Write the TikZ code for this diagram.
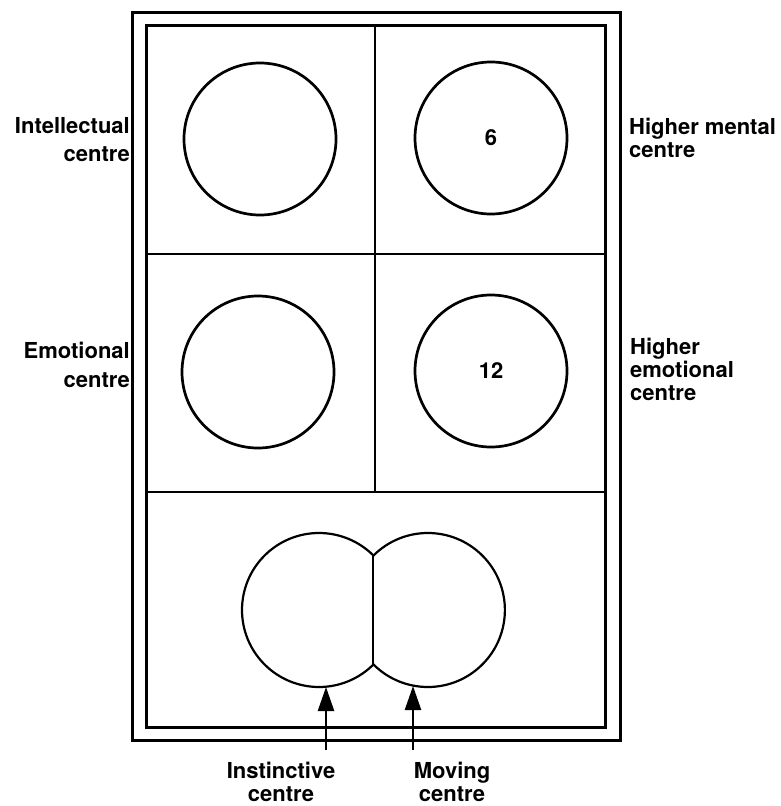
\documentclass[tikz,border=0pt]{standalone}
\usepackage{fontspec}
\setmainfont{TeX Gyre Heros}
\usetikzlibrary{arrows.meta}

\begin{document}
\begin{tikzpicture}[x=1pt,y=-1pt,
  centre/.style={draw,circle,minimum size=152pt,inner sep=0pt,line width=2.7pt,
    font=\bfseries\fontsize{22}{23}\selectfont},
  lbl/.style={inner sep=0pt,font=\bfseries\fontsize{22}{23}\selectfont},
  widelbl/.style={inner sep=0pt,font=\bfseries\fontsize{22}{28.5}\selectfont},
  pointer/.style={line width=2.4pt,-{Triangle[length=24pt,width=16pt]}}]
  \useasboundingbox (0,0) rectangle (781,806);
  \draw [line width=3pt] (132,12) rectangle (620,740);
  \draw [line width=3pt] (146,25) rectangle (605,727);
  \draw [line width=2pt] (146,254) -- (605,254);
  \draw [line width=2pt] (146,492) -- (605,492);
  \draw [line width=2pt] (375,25) -- (375,492);
  \node [centre] (intel) at (260,139) {};
  \node [centre] (hmental) at (491,138) {6};
  \node [centre] (emot) at (258,372) {};
  \node [centre] (hemot) at (491,371) {12};
  % instinctive and moving centres
  \coordinate (jtop) at (373.45,555.55);
  \coordinate (jbot) at (373.45,664.45);
  \draw [line width=2.2pt] (jtop) arc [start angle=-45,end angle=-315,radius=77]
    arc [start angle=135,end angle=-135,radius=77] -- cycle;
  \draw [line width=2pt] (jtop) -- (jbot);
  \coordinate (inst) at (326,687);
  \coordinate (instfoot) at (326,750);
  \coordinate (mov) at (413,686);
  \coordinate (movfoot) at (413,750);
  \draw [pointer] (instfoot) -- (inst);
  \draw [pointer] (movfoot) -- (mov);
  % labels
  \node [widelbl,align=right,anchor=north east] (intellbl) at (130,117) {Intellectual\\centre};
  \node [widelbl,align=right,anchor=north east] (emotlbl) at (130,342) {Emotional\\centre};
  \node [lbl,align=left,anchor=north west] (hmentlbl) at (629,118) {Higher mental\\centre};
  \node [lbl,align=left,anchor=north west] (hemotlbl) at (630,338) {Higher\\emotional\\centre};
  \node [lbl,align=center,anchor=north] (instlbl) at (281,762) {Instinctive\\centre};
  \node [lbl,align=center,anchor=north] (movlbl) at (452,762) {Moving\\centre};
\end{tikzpicture}
\end{document}
